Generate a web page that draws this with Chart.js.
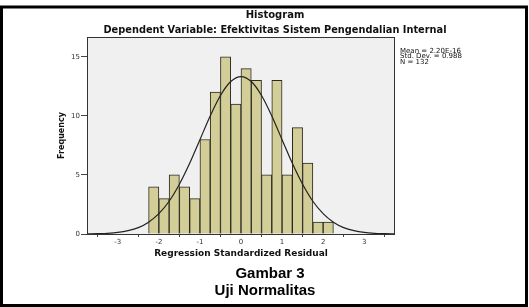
<!DOCTYPE html>
<html>
<head>
<meta charset="utf-8">
<script src="https://cdn.jsdelivr.net/npm/chart.js@4/dist/chart.umd.min.js"></script>
<style>
  html, body { margin: 0; padding: 0; background: #fff; }
  canvas { display: block; }
</style>
</head>
<body>
<canvas id="histChart" width="529" height="307"></canvas>
<script>
// histogram bins (width 0.25)
const binCenters = [-2.125, -1.875, -1.625, -1.375, -1.125, -0.875, -0.625, -0.375, -0.125,
                    0.125, 0.375, 0.625, 0.875, 1.125, 1.375, 1.625, 1.875, 2.125];
const binCounts = [4, 3, 5, 4, 3, 8, 12, 15, 11, 14, 13, 5, 13, 5, 9, 6, 1, 1];

// normal curve
const curveX = [-3.75, -3.5, -3.25, -3, -2.75, -2.5, -2.25, -2, -1.75, -1.5, -1.25, -1, -0.75, -0.5, -0.25,
                0, 0.25, 0.5, 0.75, 1, 1.25, 1.5, 1.75, 2, 2.25, 2.5, 2.75, 3, 3.25, 3.5, 3.75];
const curveY = [0.01, 0.03, 0.06, 0.13, 0.28, 0.54, 1.0, 1.72, 2.77, 4.21, 5.98, 7.98, 9.99, 11.72, 12.9,
                13.32, 12.9, 11.72, 9.99, 7.98, 5.98, 4.21, 2.77, 1.72, 1.0, 0.54, 0.28, 0.13, 0.06, 0.03, 0.01];

const xTickValues = [-3, -2, -1, 0, 1, 2, 3];
const yTickValues = [0, 5, 10, 15];

const chartTitle = 'Histogram';
const chartSubtitle = 'Dependent Variable: Efektivitas Sistem Pengendalian Internal';
const statLines = ['Mean = 2.20E-16', 'Std. Dev. = 0.988', 'N = 132'];
const captionLines = ['Gambar 3', 'Uji Normalitas'];

const spssFont = '"DejaVu Sans", sans-serif';

// background, plot box, texts and outer frame
const framePlugin = {
  id: 'framePlugin',
  beforeDraw(chart) {
    const { ctx, chartArea: a } = chart;
    ctx.save();
    ctx.fillStyle = '#ffffff';
    ctx.fillRect(0, 0, chart.width, chart.height);
    ctx.fillStyle = '#f0f0f0';
    ctx.fillRect(a.left, a.top, a.right - a.left, a.bottom - a.top);
    ctx.restore();
  },
  afterDraw(chart) {
    const { ctx, chartArea: a } = chart;
    ctx.save();
    // plot box
    ctx.strokeStyle = '#333';
    ctx.lineWidth = 1;
    ctx.strokeRect(a.left + 0.5, a.top + 0.5, a.right - a.left - 1, a.bottom - a.top);

    // titles
    ctx.fillStyle = '#111';
    ctx.textAlign = 'center';
    ctx.textBaseline = 'middle';
    ctx.font = 'bold 10px ' + spssFont;
    ctx.fillText(chartTitle, 275, 15.5);
    ctx.font = 'bold 9.8px ' + spssFont;
    ctx.fillText(chartSubtitle, 275, 30.5);

    // stats box text
    ctx.textAlign = 'left';
    ctx.font = '7px ' + spssFont;
    statLines.forEach((t, i) => ctx.fillText(t, 400, 51 + i * 5.6));

    // caption
    ctx.textAlign = 'center';
    ctx.fillStyle = '#000';
    ctx.font = 'bold 15px "Liberation Sans", Arial, sans-serif';
    ctx.fillText(captionLines[0], 270, 274);
    ctx.fillText(captionLines[1], 265, 291);

    // outer frame
    ctx.strokeStyle = '#000';
    ctx.lineWidth = 3;
    ctx.strokeRect(1.5, 7, 525, 298.5);
    ctx.restore();
  }
};

function initChart() {
  const barData = binCenters.map((x, i) => ({ x: x, y: binCounts[i] }));
  const curveData = curveX.map((x, i) => ({ x: x, y: curveY[i] }));

  new Chart(document.getElementById('histChart'), {
    type: 'bar',
    data: {
      datasets: [
        {
          type: 'line',
          data: curveData,
          borderColor: '#222',
          borderWidth: 1.2,
          pointRadius: 0,
          fill: false,
          cubicInterpolationMode: 'monotone',
          order: 0
        },
        {
          type: 'bar',
          data: barData,
          backgroundColor: '#d3ce97',
          borderColor: '#2a2a22',
          borderWidth: 1,
          barPercentage: 1,
          categoryPercentage: 1,
          order: 1
        }
      ]
    },
    options: {
      responsive: false,
      animation: false,
      devicePixelRatio: 1,
      layout: { padding: { left: 0, right: 134, top: 37, bottom: 0 } },
      plugins: { legend: { display: false }, tooltip: { enabled: false }, title: { display: false } },
      scales: {
        x: {
          type: 'linear',
          min: -3.75,
          max: 3.75,
          offset: false,
          afterFit: s => { s.height = 73; },
          afterBuildTicks: s => { s.ticks = xTickValues.map(v => ({ value: v })); },
          border: { display: false },
          grid: { drawOnChartArea: false, drawTicks: true, tickLength: 3, color: '#444' },
          ticks: { padding: 1, color: '#333', font: { size: 7, family: spssFont }, maxRotation: 0 },
          title: {
            display: true,
            text: 'Regression Standardized Residual',
            color: '#111',
            font: { size: 9, weight: 'bold', family: spssFont },
            padding: { top: 0, bottom: 47.5 }
          }
        },
        y: {
          min: 0,
          max: 16.67,
          afterFit: s => { s.width = 87; },
          afterBuildTicks: s => { s.ticks = yTickValues.map(v => ({ value: v })); },
          border: { display: false },
          grid: { drawOnChartArea: false, drawTicks: true, tickLength: 6, color: '#444' },
          ticks: { padding: 1, color: '#333', font: { size: 7, family: spssFont } },
          title: {
            display: true,
            text: 'Frequency',
            color: '#111',
            font: { size: 8, weight: 'bold', family: spssFont },
            padding: { top: 57, bottom: 0 }
          }
        }
      }
    },
    plugins: [framePlugin]
  });
}

window.onload = initChart;
</script>
</body>
</html>
